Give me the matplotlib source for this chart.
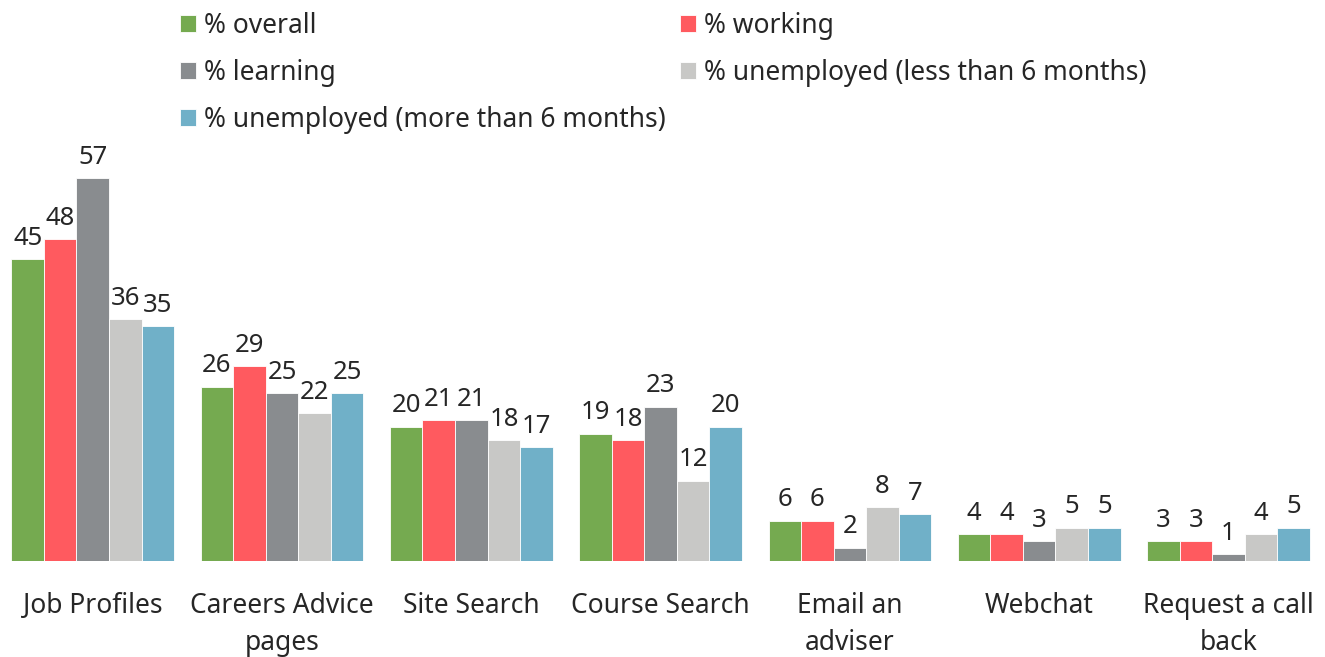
import numpy as np
import matplotlib
matplotlib.use("Agg")
import matplotlib.pyplot as plt

categories = ["Job Profiles", "Careers Advice\npages", "Site Search", "Course Search",
              "Email an\nadviser", "Webchat", "Request a call\nback"]
series_names = ["% overall", "% working", "% learning",
                "% unemployed (less than 6 months)", "% unemployed (more than 6 months)"]
overall = [45, 26, 20, 19, 6, 4, 3]
working = [48, 29, 21, 18, 6, 4, 3]
learning = [57, 25, 21, 23, 2, 3, 1]
unemp_less6 = [36, 22, 18, 12, 8, 5, 4]
unemp_more6 = [35, 25, 17, 20, 7, 5, 5]

colors = ["#75AA50", "#FF5A5F", "#898C8F", "#C8C8C6", "#70B0C8"]

plt.rcParams['font.family'] = ['Noto Sans', 'DejaVu Sans']

fig = plt.figure(figsize=(13.25, 6.57), dpi=100)
ax = fig.add_axes([0.0, 0.146, 1.0, 0.613])

x = np.arange(len(categories))
width = 0.172
all_series = [overall, working, learning, unemp_less6, unemp_more6]
bars = []
for i, (vals, name, c) in enumerate(zip(all_series, series_names, colors)):
    b = ax.bar(x + (i - 2) * width, vals, width, color=c, label=name,
               edgecolor="white", linewidth=0.6)
    ax.bar_label(b, padding=6, fontsize=18.5, color="#262626")
    bars.append(b)

ax.set_xlim(-0.49, 6.51)
ax.set_ylim(0, 60)
ax.set_xticks(x)
ax.set_xticklabels(categories, fontsize=19, color="#262626", linespacing=1.45)
ax.tick_params(axis="x", length=0, pad=22)
ax.set_yticks([])
for s in ax.spines.values():
    s.set_visible(False)

order = [0, 2, 4, 1, 3]
fig.legend([bars[i] for i in order], [series_names[i] for i in order],
           ncol=2, loc="upper left", bbox_to_anchor=(0.118, 1.018),
           frameon=False, fontsize=19, handlelength=0.6, handleheight=0.6,
           handletextpad=0.3, columnspacing=0.55, labelspacing=0.72,
           labelcolor="#262626")

fig.savefig("out.png", dpi=100)
